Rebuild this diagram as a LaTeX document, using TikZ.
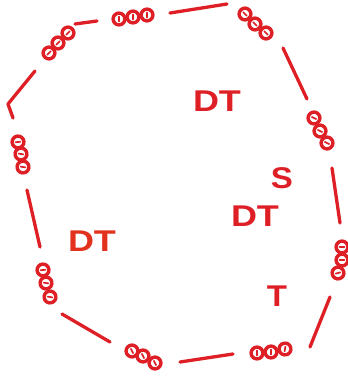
\documentclass[tikz,border=0pt]{standalone}
\usepackage{fontspec}
\setmainfont{Liberation Sans}
\definecolor{cred}{RGB}{222,32,38}
\definecolor{cored}{RGB}{226,50,30}
\begin{document}
\begin{tikzpicture}[x=1pt,y=-1pt,
  seg/.style={draw=cred,line width=3.3pt,line cap=round,line join=round},
  beadring/.style={draw=cred,fill=white,line width=3.4pt},
  beaddash/.style={draw=cred,line width=1.7pt,line cap=round},
  bead/.pic={\draw[beadring] (0,0) circle[radius=5.9pt]; \draw[beaddash] (0pt,-2.4pt) -- (0pt,2.4pt);},
  lab/.style={inner sep=0pt,text=cred,font=\fontsize{30}{30}\selectfont\bfseries}]
\useasboundingbox (0,0) rectangle (348,378);
% connector end points
\coordinate (a1) at (35,71); \coordinate (a2) at (8,104); \coordinate (a3) at (13,118);
\coordinate (b1) at (75,24); \coordinate (b2) at (97,21);
\coordinate (c1) at (170,13); \coordinate (c2) at (227,4);
\coordinate (d1) at (283,48); \coordinate (d2) at (307,99);
\coordinate (e1) at (332,168); \coordinate (e2) at (340,223);
\coordinate (f1) at (330,297); \coordinate (f2) at (310,347);
\coordinate (g1) at (233,354); \coordinate (g2) at (180,362);
\coordinate (h1) at (110,342); \coordinate (h2) at (62,314);
\coordinate (i1) at (27,190); \coordinate (i2) at (40,247);
\draw[seg] (a1) -- (a2) -- (a3);
\draw[seg] (b1) -- (b2);
\draw[seg] (c1) -- (c2);
\draw[seg] (d1) -- (d2);
\draw[seg] (e1) -- (e2);
\draw[seg] (f1) -- (f2);
\draw[seg] (g1) -- (g2);
\draw[seg] (h1) -- (h2);
\draw[seg] (i1) -- (i2);
% bead chains
\foreach \x/\y/\r in {49/53/-45,58/43/-45,68/33/-45,
  119/19/0,133/17/0,147/15/0,
  245/14/45,255/24/45,266/33/45,
  314/118/65,320/131/65,327/143/65,
  342/247/90,342/260/90,338/273/105,
  257/353/0,271/352/0,285/349/-10,
  132/351/25,143/356/25,155/363/25,
  43/270/95,46/283/80,50/297/80,
  18/142/95,21/154/80,23/167/80}
  \pic[rotate=\r] at (\x,\y) {bead};
% labels
\node[lab] (dt1) at (217,101) {\scalebox{1.2}[1]{DT}};
\node[lab] (s) at (282,178) {\scalebox{1.1}[1]{S}};
\node[lab] (dt2) at (255,216) {\scalebox{1.2}[1]{DT}};
\node[lab,text=cored] (dt3) at (92,241) {\scalebox{1.2}[1]{DT}};
\node[lab] (t) at (277,296) {\scalebox{1.1}[1]{T}};
\end{tikzpicture}
\end{document}
